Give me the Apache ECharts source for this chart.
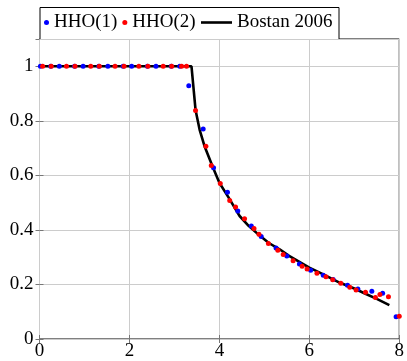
<!DOCTYPE html>
<html>
<head>
<meta charset="utf-8">
<script src="https://cdn.jsdelivr.net/npm/echarts@6/dist/echarts.min.js"></script>
<style>html,body{margin:0;padding:0;background:#fff}#c{width:407px;height:361px}</style>
</head>
<body>
<div id="c"></div>
<script>
// ---- data ----
const xTicks = [0, 2, 4, 6, 8];
const yTicks = [0, 0.2, 0.4, 0.6, 0.8, 1];
const seriesNames = ['HHO(1)', 'HHO(2)', 'Bostan 2006'];

const hho1 = [
  [0.02,1],[0.25,1],[0.44,1],[0.78,1],[0.97,1],[1.32,1],[1.52,1],[1.86,1],[2.05,1],
  [2.40,1],[2.59,1],[2.93,1],[3.12,1],
  [3.32,0.929],[3.64,0.770],[3.87,0.628],[4.18,0.538],[4.41,0.469],[4.71,0.414],
  [4.93,0.376],[5.26,0.334],[5.50,0.304],[5.78,0.275],[6.03,0.252],[6.31,0.234],
  [6.53,0.218],[6.85,0.197],[7.08,0.183],[7.39,0.175],[7.63,0.168],[7.93,0.082]
];
const hho2 = [
  [0.07,1],[0.26,1],[0.60,1],[0.79,1],[1.14,1],[1.33,1],[1.68,1],[1.88,1],[2.21,1],
  [2.41,1],[2.75,1],[2.94,1],[3.16,1],[3.27,1],
  [3.47,0.838],[3.70,0.707],[3.82,0.636],[4.02,0.570],[4.23,0.508],[4.36,0.484],
  [4.56,0.441],[4.77,0.405],[4.88,0.384],[5.09,0.350],[5.30,0.325],[5.42,0.310],
  [5.64,0.287],[5.84,0.267],[5.95,0.257],[6.17,0.241],[6.37,0.228],[6.52,0.217],
  [6.70,0.204],[6.90,0.190],[7.04,0.180],[7.25,0.171],[7.47,0.152],[7.57,0.163],
  [7.76,0.155],[8.0,0.083]
];
const bostan = [
  [0,1],[3.38,1],[3.47,0.84],[3.56,0.768],[3.67,0.707],[3.86,0.628],[4.0,0.573],
  [4.2,0.52],[4.45,0.451],[4.65,0.415],[4.89,0.38],[5.1,0.352],[5.34,0.329],
  [5.55,0.305],[5.78,0.283],[6.0,0.262],[6.3,0.238],[6.67,0.207],[7.0,0.185],
  [7.26,0.165],[7.5,0.147],[7.78,0.124]
];

const FONT = '"Liberation Serif", "DejaVu Serif", serif';
const chart = echarts.init(document.getElementById('c'), null, {renderer: 'canvas'});
const gridCol = '#cccccc';
const tickCol = '#777777';

chart.setOption({
  animation: false,
  backgroundColor: '#ffffff',
  grid: {left: 39.5, right: 6, top: 39, bottom: 21, show: true, borderColor: '#000', borderWidth: 1, backgroundColor: 'transparent'},
  graphic: [{
    type: 'rect', left: 39.5, top: 7,
    shape: {width: 299, height: 32},
    style: {fill: '#fff', stroke: '#000', lineWidth: 1},
    z: 0
  }],
  legend: [{
    data: [seriesNames[0], seriesNames[1]],
    left: 44, top: 13, padding: 0, itemGap: 5,
    itemWidth: 5, itemHeight: 5, icon: 'circle',
    textStyle: {fontFamily: FONT, fontSize: 19, color: '#000'}, z: 5
  }, {
    data: [{name: seriesNames[2], icon: 'rect'}],
    left: 201, top: 13, padding: 0,
    itemWidth: 31, itemHeight: 2.6,
    textStyle: {fontFamily: FONT, fontSize: 19, color: '#000'}, z: 5
  }],
  xAxis: [{
    type: 'value', min: xTicks[0], max: xTicks[xTicks.length - 1], interval: 2,
    axisLine: {show: false},
    axisTick: {show: true, inside: true, length: 4, lineStyle: {color: tickCol}},
    splitLine: {show: true, lineStyle: {color: gridCol, width: 1}},
    axisLabel: {fontFamily: FONT, fontSize: 19, color: '#000', margin: 3}
  }, {
    type: 'value', position: 'top', min: xTicks[0], max: xTicks[xTicks.length - 1], interval: 2,
    axisLine: {show: false}, axisLabel: {show: false}, splitLine: {show: false},
    axisTick: {show: true, inside: true, length: 4, lineStyle: {color: tickCol}}
  }],
  yAxis: [{
    type: 'value', min: 0, max: 1.1, interval: 0.2,
    axisLine: {show: false},
    axisTick: {show: true, inside: true, length: 4, lineStyle: {color: tickCol}},
    splitLine: {show: true, lineStyle: {color: gridCol, width: 1}},
    axisLabel: {fontFamily: FONT, fontSize: 19, color: '#000', margin: 6, showMaxLabel: false,
      formatter: v => (yTicks.some(t => Math.abs(t - v) < 1e-6) ? String(+v.toFixed(1)) : '')}
  }, {
    type: 'value', position: 'right', min: 0, max: 1.1, interval: 0.2,
    axisLine: {show: false}, axisLabel: {show: false}, splitLine: {show: false},
    axisTick: {show: true, inside: true, length: 4, lineStyle: {color: tickCol}}
  }],
  series: [{
    name: seriesNames[0], type: 'scatter', data: hho1, symbol: 'circle', symbolSize: 5,
    itemStyle: {color: '#0000ff', opacity: 1}, z: 3
  }, {
    name: seriesNames[1], type: 'scatter', data: hho2, symbol: 'circle', symbolSize: 5,
    itemStyle: {color: '#ff0000', opacity: 1}, z: 4
  }, {
    name: seriesNames[2], type: 'line', data: bostan, showSymbol: false, symbol: 'none',
    lineStyle: {color: '#000', width: 2.6}, itemStyle: {color: '#000'}, z: 2
  }]
});
</script>
</body>
</html>
